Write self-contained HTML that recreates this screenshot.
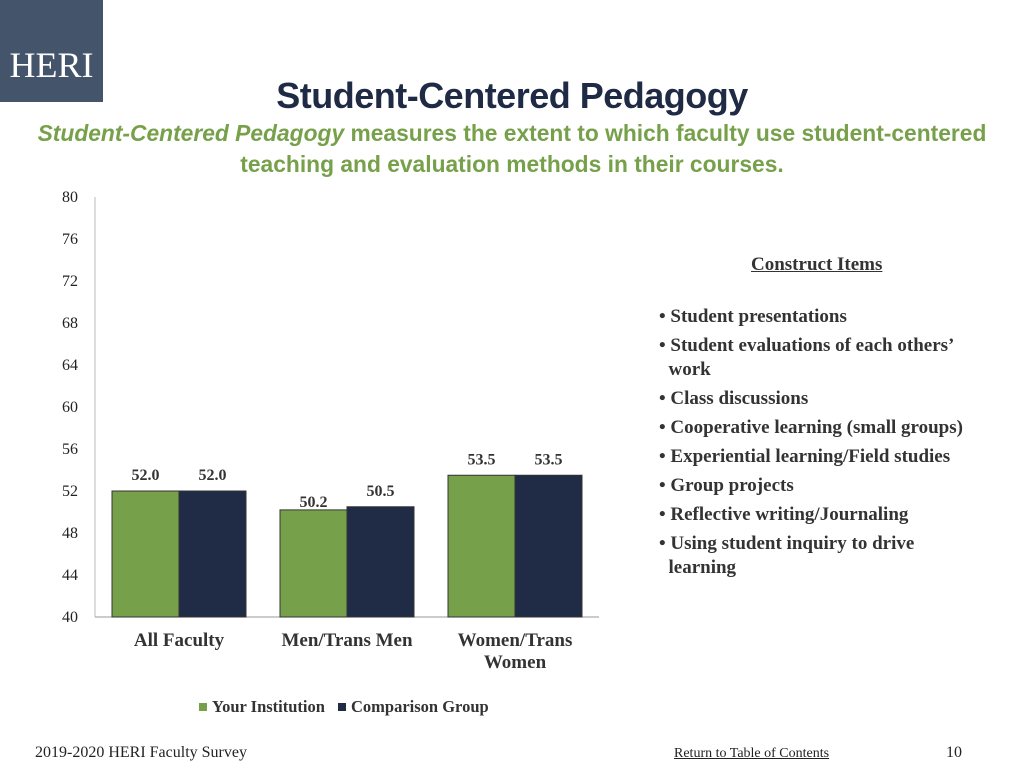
<!DOCTYPE html>
<html><head><meta charset="utf-8"><style>
body{margin:0;width:1024px;height:768px;background:#fff;position:relative;overflow:hidden;font-family:"Liberation Serif",serif}
.abs{position:absolute}
</style></head><body>
<div class="abs" style="left:0;top:0;width:103px;height:102px;background:#44546a;color:#fff;font-size:36px;line-height:130px;text-align:center">HERI</div>
<div class="abs" style="left:0;width:1024px;top:75px;text-align:center;font-family:'Liberation Sans',sans-serif;font-weight:bold;font-size:36px;color:#1f2a44;letter-spacing:-0.5px">Student-Centered Pedagogy</div>
<div class="abs" style="left:22px;width:980px;top:118px;text-align:center;font-family:'Liberation Sans',sans-serif;font-size:22.8px;font-weight:bold;line-height:31px;color:#77a04a"><i>Student-Centered Pedagogy</i> measures the extent to which faculty use student-centered teaching and evaluation methods in their courses.</div>
<svg class="abs" style="left:0;top:0" width="1024" height="768" id="chart"></svg>
<div class="abs" style="left:751px;top:254px;font-size:19px;font-weight:bold;color:#333;text-decoration:underline">Construct Items</div>
<div class="abs" style="left:659px;top:305px;width:340px;font-size:19px;font-weight:bold;color:#333;line-height:24px">
<div style="margin-bottom:5px">• Student presentations</div>
<div style="margin-bottom:5px">• Student evaluations of each others’<br>&nbsp;&nbsp;work</div>
<div style="margin-bottom:5px">• Class discussions</div>
<div style="margin-bottom:5px">• Cooperative learning (small groups)</div>
<div style="margin-bottom:5px">• Experiential learning/Field studies</div>
<div style="margin-bottom:5px">• Group projects</div>
<div style="margin-bottom:5px">• Reflective writing/Journaling</div>
<div>• Using student inquiry to drive<br>&nbsp;&nbsp;learning</div>
</div>
<div class="abs" style="left:35px;top:744px;font-size:16px;color:#222">2019-2020 HERI Faculty Survey</div>
<div class="abs" style="left:674px;top:746px;font-size:14px;color:#222;text-decoration:underline">Return to Table of Contents</div>
<div class="abs" style="left:946px;top:744px;font-size:16px;color:#222">10</div>
<script>
const categories=[["All Faculty"],["Men/Trans Men"],["Women/Trans","Women"]];
const yourInstitution=[52.0,50.2,53.5];
const comparisonGroup=[52.0,50.5,53.5];
const yTicks=[40,44,48,52,56,60,64,68,72,76,80];
const ns="http://www.w3.org/2000/svg";
const svg=document.getElementById('chart');
const x0=95,x1=599,yMin=40,yMax=80,py0=617,py1=197;
const y=v=>py0-(v-yMin)/(yMax-yMin)*(py0-py1);
const gw=(x1-x0)/categories.length;
function mk(t,a,txt){const e=document.createElementNS(ns,t);for(const k in a)e.setAttribute(k,a[k]);if(txt!=null)e.textContent=txt;svg.appendChild(e);return e;}
let e=mk('line',{x1:x0,y1:py1,x2:x0,y2:py0,stroke:'#bbb'});

e=mk('line',{x1:x0,y1:py0,x2:x1,y2:py0,stroke:'#999'});

yTicks.forEach(t=>{const l=mk('text',{x:70,y:y(t)+5,'text-anchor':'middle','font-size':16,fill:'#222'},t);
});
categories.forEach((c,i)=>{
 const gx=x0+i*gw+17,bw=67;
 [[yourInstitution[i],'#77a04a'],[comparisonGroup[i],'#202b45']].forEach((s,j)=>{
  const bx=gx+j*bw;
  const r=mk('rect',{x:bx,y:y(s[0]),width:bw,height:py0-y(s[0]),fill:s[1],stroke:'#333','stroke-width':1});
  
  const low=(j===0&&s[0]<comparisonGroup[i]);
  const t=mk('text',{x:bx+bw/2,y:y(s[0])-11+(low?8:0),'text-anchor':'middle','font-size':16,'font-weight':'bold',fill:'#333'},s[0].toFixed(1));
  
 });
 c.forEach((ln,k)=>{const t=mk('text',{x:x0+i*gw+gw/2,y:646+k*22,'text-anchor':'middle','font-size':19,'font-weight':'bold',fill:'#333'},ln);
 });
});
e=mk('rect',{x:199,y:703,width:8,height:8,fill:'#77a04a'});
e=mk('text',{x:212,y:712,'font-size':16.5,'font-weight':'bold',fill:'#333'},'Your Institution');
e=mk('rect',{x:338,y:703,width:8,height:8,fill:'#202b45'});
e=mk('text',{x:351,y:712,'font-size':16.5,'font-weight':'bold',fill:'#333'},'Comparison Group');
</script>
</body></html>
